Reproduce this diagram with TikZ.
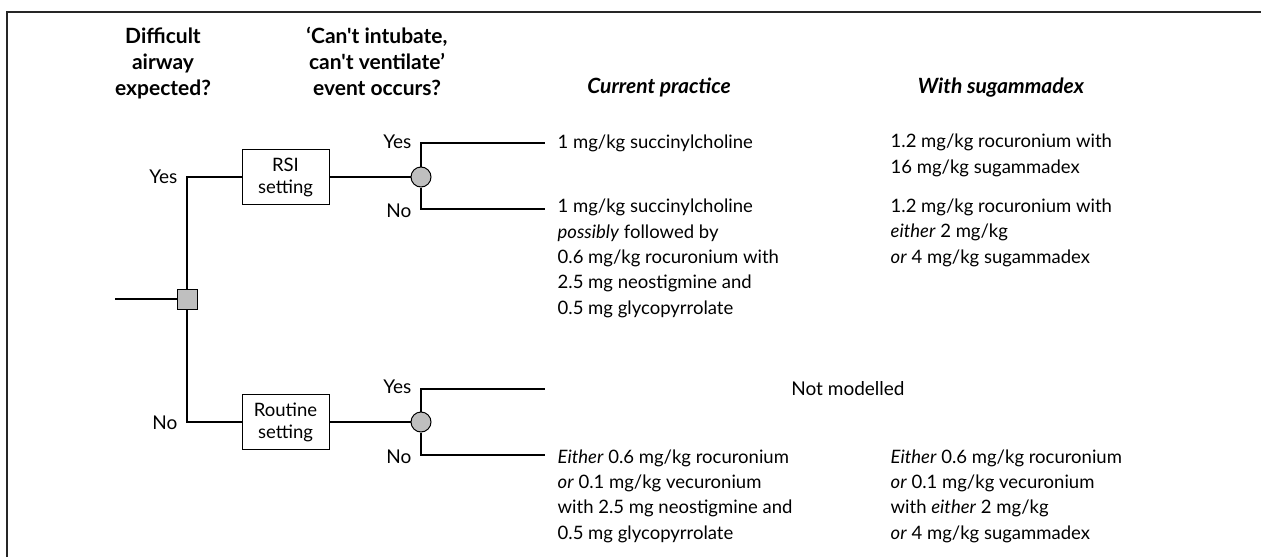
\documentclass[tikz,border=0pt]{standalone}
\usepackage{fontspec}
\setmainfont{Lato}[Ligatures=TeXOff]
\begin{document}
\begin{tikzpicture}[x=1pt,y=-1pt,
  line width=1.3pt,
  body/.style={font=\fontsize{18.5}{25.3}\selectfont, align=left, anchor=base west, inner sep=0pt},
  head/.style={font=\fontsize{21}{26}\selectfont\bfseries, align=center, anchor=base, inner sep=0pt},
  headit/.style={font=\fontsize{21}{26}\selectfont\bfseries\itshape, anchor=base, inner sep=0pt},
  lab/.style={font=\fontsize{19}{22}\selectfont, inner sep=0pt},
  setbox/.style={draw, line width=1pt, minimum width=87pt, minimum height=55pt, inner sep=0pt, align=center, font=\fontsize{18.5}{22}\selectfont},
  chance/.style={circle, draw, line width=1pt, fill=black!25, minimum size=20pt, inner sep=0pt},
  decision/.style={rectangle, draw, line width=1pt, fill=black!25, minimum size=20pt, inner sep=0pt}]
\useasboundingbox (0,0) rectangle (1261,557);
% frame
\draw[line width=1.2pt, black!85] (7,557) -- (7,12) -- (1261,12);
% headers (anchor base = last line)
\node[head] (h1) at (163,95) {Difficult\\airway\\expected?};
\node[head] (h2) at (377,95) {‘Can't intubate,\\can't ventilate’\\event occurs?};
\node[headit] (h3) at (659,93) {Current practice};
\node[headit] (h4) at (1001,93) {With sugammadex};
% tree nodes
\coordinate (start) at (115,299);
\node[decision] (sq) at (187,299) {};
\node[setbox] (rsi) at (285.5,177) {RSI\\setting};
\node[setbox] (rout) at (285.5,422) {Routine\\setting};
\node[chance] (c1) at (421,177) {};
\node[chance] (c2) at (421,422) {};
\coordinate (e1y) at (545,143);
\coordinate (e1n) at (545,209);
\coordinate (e2y) at (545,389);
\coordinate (e2n) at (545,455);
% connectors
\draw (start) -- (sq.west);
\draw (sq.north) |- (rsi.west);
\draw (sq.south) |- (rout.west);
\draw (rsi.east) -- (c1.west);
\draw (rout.east) -- (c2.west);
\draw (c1.north) |- (e1y);
\draw (c1.south) |- (e1n);
\draw (c2.north) |- (e2y);
\draw (c2.south) |- (e2n);
% branch labels
\node[lab, anchor=east] (ly1) at (178,177) {Yes};
\node[lab, anchor=east] (ln1) at (178,423) {No};
\node[lab, anchor=east] (ly2) at (412,142) {Yes};
\node[lab, anchor=east] (ln2) at (412,211) {No};
\node[lab, anchor=east] (ly3) at (412,387) {Yes};
\node[lab, anchor=east] (ln3) at (412,457) {No};
% outcomes: current practice (anchor base = last line)
\node[body] (o1) at (557,148) {1 mg/kg succinylcholine};
\node[body] (o2) at (557,314) {1 mg/kg succinylcholine\\\textit{possibly} followed by\\0.6 mg/kg rocuronium with\\2.5 mg neostigmine and\\0.5 mg glycopyrrolate};
\node[lab, anchor=base] (nm) at (848,395) {Not modelled};
\node[body] (o3) at (557,539) {\textit{Either} 0.6 mg/kg rocuronium\\\textit{or} 0.1 mg/kg vecuronium\\with 2.5 mg neostigmine and\\0.5 mg glycopyrrolate};
% outcomes: with sugammadex
\node[body] (s1) at (890,173) {1.2 mg/kg rocuronium with\\16 mg/kg sugammadex};
\node[body] (s2) at (890,263) {1.2 mg/kg rocuronium with\\\textit{either} 2 mg/kg\\\textit{or} 4 mg/kg sugammadex};
\node[body] (s3) at (890,539) {\textit{Either} 0.6 mg/kg rocuronium\\\textit{or} 0.1 mg/kg vecuronium\\with \textit{either} 2 mg/kg\\\textit{or} 4 mg/kg sugammadex};
\end{tikzpicture}
\end{document}
